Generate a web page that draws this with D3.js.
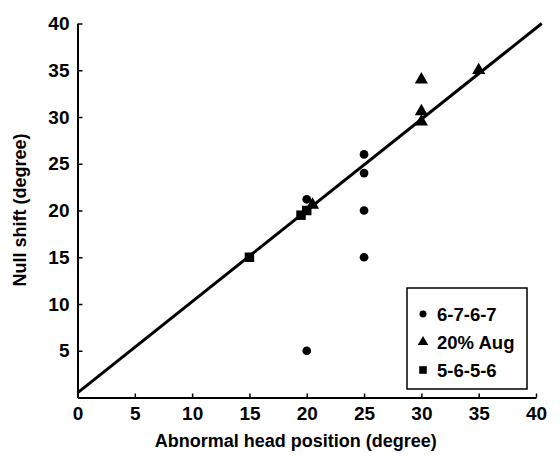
<!DOCTYPE html>
<html>
<head>
<meta charset="utf-8">
<script src="https://cdn.jsdelivr.net/npm/d3@7"></script>
<style>
  body { margin: 0; background: #fff; }
  text { font-family: "Liberation Sans", Arial, sans-serif; fill: #000; }
</style>
</head>
<body>
<div id="chart"></div>
<script>
// series values
var circleX = [20, 20, 25, 25, 25, 25];
var circleY = [5, 21.2, 15, 20, 24, 26];
var triangleX = [20.5, 30, 30, 30, 35];
var triangleY = [20.6, 29.5, 30.6, 34, 35];
var squareX = [15, 19.5, 20];
var squareY = [15, 19.5, 20];
// fitted line end points
var lineX = [0, 40.5];
var lineY = [0.5, 40];
var ticks = [0, 5, 10, 15, 20, 25, 30, 35, 40];
var legendNames = ["6-7-6-7", "20% Aug", "5-6-5-6"];

var width = 560, height = 457;
var margin = {top: 23.5, right: 24, bottom: 59.5, left: 77.5};

var svg = d3.select("#chart").append("svg")
    .attr("width", width)
    .attr("height", height);

var xScale = d3.scaleLinear()
    .domain([0, 40])
    .range([margin.left, width - margin.right]);

var yScale = d3.scaleLinear()
    .domain([0, 40])
    .range([height - margin.bottom, margin.top]);

// x-as, ticks pointing inward
var xAxis = d3.axisBottom(xScale).tickValues(ticks).tickSizeInner(-4).tickSizeOuter(0).tickPadding(9);
var gx = svg.append("g")
    .attr("transform", "translate(0," + yScale(0) + ")")
    .call(xAxis);

// y-as
var yAxis = d3.axisLeft(yScale).tickValues(ticks.slice(1)).tickSizeInner(-5).tickSizeOuter(0).tickPadding(8);
var gy = svg.append("g")
    .attr("transform", "translate(" + xScale(0) + ",0)")
    .call(yAxis);

[gx, gy].forEach(function(g) {
  g.select(".domain").attr("stroke", "#000").attr("stroke-width", 2);
  g.selectAll(".tick line").attr("stroke", "#000").attr("stroke-width", 1.5);
  g.selectAll(".tick text")
    .style("font-family", "Liberation Sans, Arial, sans-serif")
    .style("font-size", "19px")
    .style("font-weight", "bold");
});

// labels
svg.append("text")
    .attr("text-anchor", "middle")
    .attr("x", (xScale(0) + xScale(40)) / 2 - 11)
    .attr("y", 447)
    .style("font-size", "18px")
    .style("font-weight", "bold")
    .text("Abnormal head position (degree)");

svg.append("text")
    .attr("text-anchor", "middle")
    .attr("transform", "translate(" + [26, 210] + ") rotate(-90)")
    .style("font-size", "18px")
    .style("font-weight", "bold")
    .text("Null shift (degree)");

// line y = x
svg.append("line")
    .attr("x1", xScale(lineX[0])).attr("y1", yScale(lineY[0]))
    .attr("x2", xScale(lineX[1])).attr("y2", yScale(lineY[1]))
    .attr("stroke", "#000")
    .attr("stroke-width", 3);

// points
var circles = circleX.map(function(d, i) { return {x: d, y: circleY[i]}; });
var triangles = triangleX.map(function(d, i) { return {x: d, y: triangleY[i]}; });
var squares = squareX.map(function(d, i) { return {x: d, y: squareY[i]}; });

var sym = {
  circle: d3.symbol().type(d3.symbolCircle).size(60),
  triangle: d3.symbol().type(d3.symbolTriangle).size(75),
  square: d3.symbol().type(d3.symbolSquare).size(90)
};

function drawPoints(data, s) {
  svg.append("g").selectAll("path")
    .data(data)
    .enter()
    .append("path")
    .attr("d", s)
    .attr("transform", function(d) { return "translate(" + xScale(d.x) + "," + yScale(d.y) + ")"; })
    .attr("fill", "#000");
}
drawPoints(circles, sym.circle);
drawPoints(triangles, sym.triangle);
drawPoints(squares, sym.square);

// make legend
var legend = svg.append("g").attr("transform", "translate(407,288)");
legend.append("rect")
    .attr("width", 120)
    .attr("height", 101)
    .attr("fill", "#fff")
    .attr("stroke", "#000")
    .attr("stroke-width", 1.5);

var legendSym = [sym.circle, sym.triangle, sym.square];
var item = legend.selectAll(".legend")
    .data(legendNames)
    .enter()
    .append("g")
    .attr("class", "legend")
    .attr("transform", function(d, i) { return "translate(0," + (26 + i * 28) + ")"; });

item.append("path")
    .attr("d", function(d, i) { return legendSym[i](); })
    .attr("transform", "translate(16,0) scale(0.8)")
    .attr("fill", "#000");

item.append("text")
    .attr("x", 30)
    .attr("y", 7)
    .style("font-size", "18.5px")
    .style("font-weight", "bold")
    .text(function(d) { return d; });
</script>
</body>
</html>
